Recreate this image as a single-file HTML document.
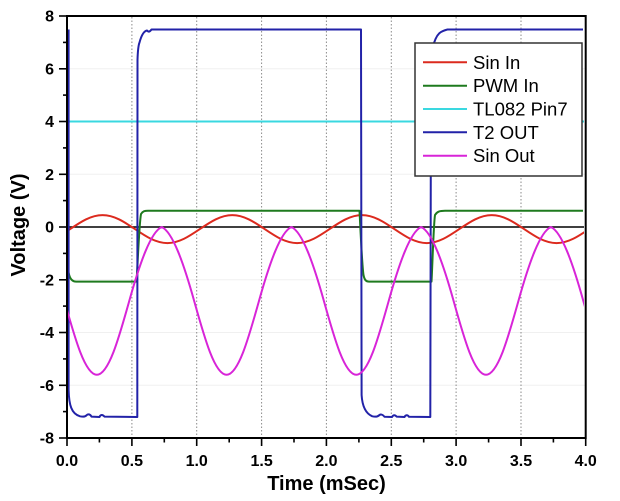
<!DOCTYPE html>
<html><head><meta charset="utf-8"><style>
html,body{margin:0;padding:0;background:#fff;}
svg{display:block;}
text{font-family:"Liberation Sans",Arial,sans-serif;}
</style></head><body>
<svg width="620" height="501" viewBox="0 0 620 501" xmlns="http://www.w3.org/2000/svg">
<defs><clipPath id="pc"><rect x="67" y="16" width="517" height="422"/></clipPath></defs>
<rect width="620" height="501" fill="#fff"/>
<!-- faint horizontal grid -->
<g stroke="#f0f0f0" stroke-width="1">
<line x1="67" x2="585" y1="68.8" y2="68.8"/><line x1="67" x2="585" y1="174.3" y2="174.3"/>
<line x1="67" x2="585" y1="279.8" y2="279.8"/><line x1="67" x2="585" y1="332.5" y2="332.5"/><line x1="67" x2="585" y1="385.3" y2="385.3"/>
</g>
<!-- vertical dotted grid -->
<g stroke="#8a8a8a" stroke-width="1" stroke-dasharray="1.5,2">
<line x1="131.9" x2="131.9" y1="17" y2="437"/><line x1="196.7" x2="196.7" y1="17" y2="437"/>
<line x1="261.6" x2="261.6" y1="17" y2="437"/><line x1="326.4" x2="326.4" y1="17" y2="437"/>
<line x1="391.3" x2="391.3" y1="17" y2="437"/><line x1="456.1" x2="456.1" y1="17" y2="437"/>
<line x1="521" x2="521" y1="17" y2="437"/>
</g>
<g clip-path="url(#pc)" fill="none" stroke-width="2" stroke-linejoin="round">
<line x1="67" x2="585" y1="227" y2="227" stroke="#000" stroke-width="1.6"/>
<!-- Sin In -->
<path stroke="#dc2a1e" d="M-59.6,229.1
c10.58,-7.16 20.69,-13.98 32.43,-13.98 c11.74,0 21.85,6.82 32.43,13.98 c10.58,7.16 20.69,13.98 32.43,13.98 c11.74,0 21.85,-6.82 32.43,-13.98
c10.58,-7.16 20.69,-13.98 32.43,-13.98 c11.74,0 21.85,6.82 32.43,13.98 c10.58,7.16 20.69,13.98 32.43,13.98 c11.74,0 21.85,-6.82 32.43,-13.98
c10.58,-7.16 20.69,-13.98 32.43,-13.98 c11.74,0 21.85,6.82 32.43,13.98 c10.58,7.16 20.69,13.98 32.43,13.98 c11.74,0 21.85,-6.82 32.43,-13.98
c10.58,-7.16 20.69,-13.98 32.43,-13.98 c11.74,0 21.85,6.82 32.43,13.98 c10.58,7.16 20.69,13.98 32.43,13.98 c11.74,0 21.85,-6.82 32.43,-13.98
c10.58,-7.16 20.69,-13.98 32.43,-13.98 c11.74,0 21.85,6.82 32.43,13.98 c10.58,7.16 20.69,13.98 32.43,13.98 c11.74,0 21.85,-6.82 32.43,-13.98"/>
<!-- PWM In -->
<path stroke="#1e7a1e" d="M67.5,265 C68.5,276 70.5,281.6 76,281.6 L136.5,281.6 C137.5,270 139,225 141,214 C143,211 145,210.7 148,210.7 L359.5,210.7 C360.5,230 362,265 363.5,275 C364.5,280 366,281.6 369,281.6 L431.5,281.6 C432.5,265 433.5,225 435,215 C437,211.5 440,210.7 445,210.7 L583,210.7"/>
<!-- TL082 Pin7 -->
<line x1="67" x2="585" y1="121.5" y2="121.5" stroke="#3ad8e0"/>
<!-- T2 OUT -->
<path stroke="#2222a8" d="M68.6,29.5 L68.6,390 C69,405 71.5,414 80,416.3 C83,417 85,417 86.5,415.3 C88,413.8 90,414 91.5,416.6 L99.5,417 C100.5,414.5 102.5,414.3 104.5,416.6 L137.3,417 L137.5,60 C137.8,50 138.5,45 139.5,42.5 C141.5,35 144,31 147,30.5 C148.5,32 149.5,32.2 151.5,29.5 L361,29.5 L361.6,395 C362.2,405 365,413 372,416.2 C375,417 377.5,417 379.5,415 C381,414 383,414.8 384.5,416.8 L392,417 C393,415 395,414.5 396.5,416.6 L404.5,417 C405.5,415 407.5,414.5 409,416.8 L430.3,417 L431,60 C431.5,50 432.5,45.5 434,43 C436,37 438,33.5 441,32 C443,31 445,30 447.5,29.5 L583,29.5"/>
<!-- Sin Out -->
<path stroke="#d824d8" d="M-0.44,300.85
c10.58,-37.83 21.5,-69 32.43,-73.85 c10.9,4.85 21.85,36.02 32.43,73.85 c10.58,37.83 20.69,73.85 32.43,73.85 c11.74,0 21.85,-36.02 32.43,-73.85
c10.58,-37.83 21.5,-69 32.43,-73.85 c10.9,4.85 21.85,36.02 32.43,73.85 c10.58,37.83 20.69,73.85 32.43,73.85 c11.74,0 21.85,-36.02 32.43,-73.85
c10.58,-37.83 21.5,-69 32.43,-73.85 c10.9,4.85 21.85,36.02 32.43,73.85 c10.58,37.83 20.69,73.85 32.43,73.85 c11.74,0 21.85,-36.02 32.43,-73.85
c10.58,-37.83 21.5,-69 32.43,-73.85 c10.9,4.85 21.85,36.02 32.43,73.85 c10.58,37.83 20.69,73.85 32.43,73.85 c11.74,0 21.85,-36.02 32.43,-73.85
c10.58,-37.83 21.5,-69 32.43,-73.85 c10.9,4.85 21.85,36.02 32.43,73.85 c10.58,37.83 20.69,73.85 32.43,73.85 c11.74,0 21.85,-36.02 32.43,-73.85"/>
</g>
<!-- axes frame -->
<rect x="67" y="16" width="518.7" height="422" fill="none" stroke="#000" stroke-width="2"/>
<!-- y ticks -->
<g stroke="#000" stroke-width="1.6">
<line x1="59" x2="67" y1="16" y2="16"/><line x1="59" x2="67" y1="68.8" y2="68.8"/><line x1="59" x2="67" y1="121.5" y2="121.5"/>
<line x1="59" x2="67" y1="174.3" y2="174.3"/><line x1="59" x2="67" y1="227" y2="227"/><line x1="59" x2="67" y1="279.8" y2="279.8"/>
<line x1="59" x2="67" y1="332.5" y2="332.5"/><line x1="59" x2="67" y1="385.3" y2="385.3"/><line x1="59" x2="67" y1="438" y2="438"/>
<line x1="63" x2="67" y1="42.4" y2="42.4"/><line x1="63" x2="67" y1="95.1" y2="95.1"/><line x1="63" x2="67" y1="147.9" y2="147.9"/>
<line x1="63" x2="67" y1="200.6" y2="200.6"/><line x1="63" x2="67" y1="253.4" y2="253.4"/><line x1="63" x2="67" y1="306.1" y2="306.1"/>
<line x1="63" x2="67" y1="358.9" y2="358.9"/><line x1="63" x2="67" y1="411.6" y2="411.6"/>
</g>
<!-- x ticks -->
<g stroke="#000" stroke-width="1.6">
<line x1="67" x2="67" y1="438" y2="446"/><line x1="131.9" x2="131.9" y1="438" y2="446"/><line x1="196.7" x2="196.7" y1="438" y2="446"/>
<line x1="261.6" x2="261.6" y1="438" y2="446"/><line x1="326.4" x2="326.4" y1="438" y2="446"/><line x1="391.3" x2="391.3" y1="438" y2="446"/>
<line x1="456.1" x2="456.1" y1="438" y2="446"/><line x1="521" x2="521" y1="438" y2="446"/><line x1="585.7" x2="585.7" y1="438" y2="446"/>
<line x1="99.4" x2="99.4" y1="438" y2="442.5"/><line x1="164.3" x2="164.3" y1="438" y2="442.5"/><line x1="229.2" x2="229.2" y1="438" y2="442.5"/>
<line x1="294" x2="294" y1="438" y2="442.5"/><line x1="358.9" x2="358.9" y1="438" y2="442.5"/><line x1="423.7" x2="423.7" y1="438" y2="442.5"/>
<line x1="488.6" x2="488.6" y1="438" y2="442.5"/><line x1="553.4" x2="553.4" y1="438" y2="442.5"/>
</g>
<!-- y tick labels -->
<g font-size="16" font-weight="bold" text-anchor="end" fill="#000">
<text x="54" y="21.7">8</text><text x="54" y="74.5">6</text><text x="54" y="127.2">4</text>
<text x="54" y="180">2</text><text x="54" y="232.7">0</text><text x="54" y="285.5">-2</text>
<text x="54" y="338.2">-4</text><text x="54" y="391">-6</text><text x="54" y="443.7">-8</text>
</g>
<!-- x tick labels -->
<g font-size="16" font-weight="bold" text-anchor="middle" fill="#000">
<text x="67" y="466">0.0</text><text x="131.9" y="466">0.5</text><text x="196.7" y="466">1.0</text>
<text x="261.6" y="466">1.5</text><text x="326.4" y="466">2.0</text><text x="391.3" y="466">2.5</text>
<text x="456.1" y="466">3.0</text><text x="521" y="466">3.5</text><text x="585.7" y="466">4.0</text>
</g>
<!-- axis titles -->
<text x="326.5" y="490" font-size="20" font-weight="bold" text-anchor="middle">Time (mSec)</text>
<text transform="translate(25,225) rotate(-90)" font-size="20" font-weight="bold" text-anchor="middle">Voltage (V)</text>
<!-- legend -->
<rect x="415" y="43" width="167" height="133" fill="#fff" stroke="#333" stroke-width="1.5"/>
<g stroke-width="2">
<line x1="423" x2="467" y1="62.3" y2="62.3" stroke="#dc2a1e"/>
<line x1="423" x2="467" y1="85.7" y2="85.7" stroke="#1e7a1e"/>
<line x1="423" x2="467" y1="109" y2="109" stroke="#3ad8e0"/>
<line x1="423" x2="467" y1="132.3" y2="132.3" stroke="#2222a8"/>
<line x1="423" x2="467" y1="155.7" y2="155.7" stroke="#d824d8"/>
</g>
<g font-size="18.5" fill="#000">
<text x="473" y="68.8">Sin In</text>
<text x="473" y="92.2">PWM In</text>
<text x="473" y="115.5">TL082 Pin7</text>
<text x="473" y="138.8">T2 OUT</text>
<text x="473" y="162.2">Sin Out</text>
</g>
</svg>
</body></html>
